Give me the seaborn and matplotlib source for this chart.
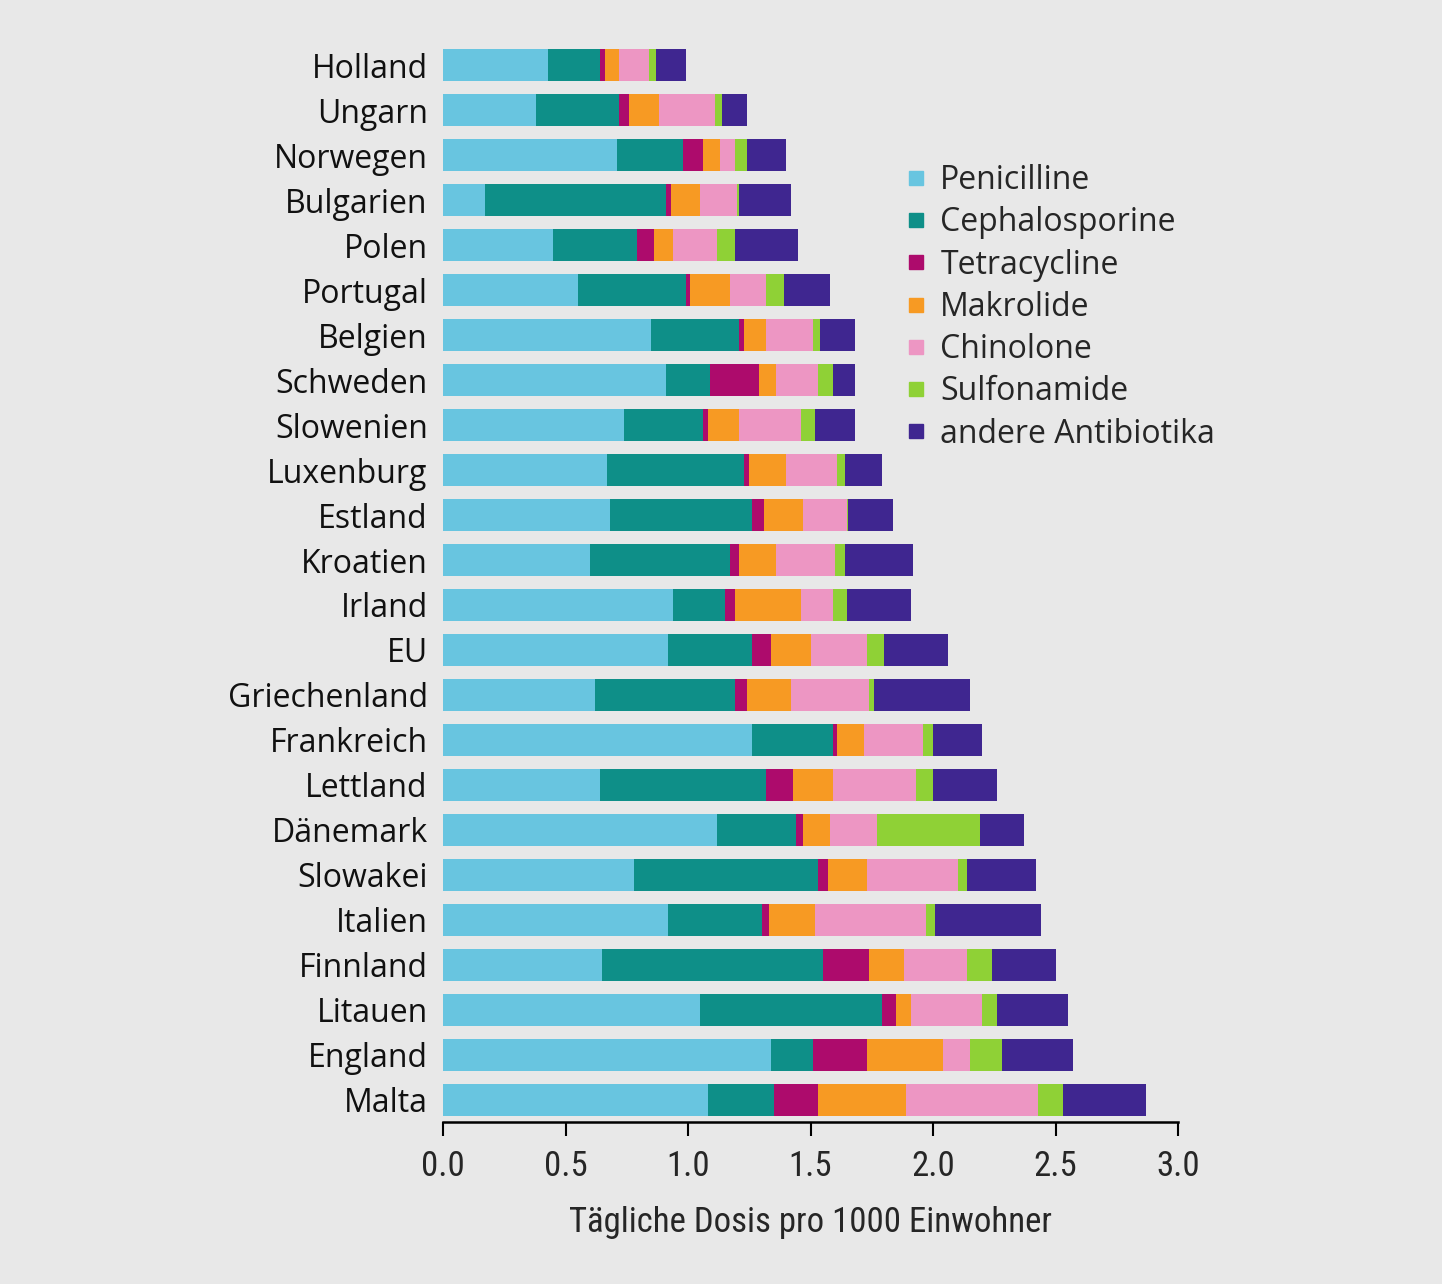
import matplotlib
matplotlib.use("Agg")
import matplotlib.pyplot as plt
import matplotlib.font_manager as fm
from matplotlib.lines import Line2D
import numpy as np
import pandas as pd
import seaborn as sns

# Data (daily dose per 1000 inhabitants)
countries = ["Holland", "Ungarn", "Norwegen", "Bulgarien", "Polen", "Portugal",
             "Belgien", "Schweden", "Slowenien", "Luxenburg", "Estland", "Kroatien",
             "Irland", "EU", "Griechenland", "Frankreich", "Lettland", "Dänemark",
             "Slowakei", "Italien", "Finnland", "Litauen", "England", "Malta"]

penicilline = [0.43, 0.38, 0.71, 0.17, 0.45, 0.55, 0.85, 0.91, 0.74, 0.67, 0.68, 0.60,
               0.94, 0.92, 0.62, 1.26, 0.64, 1.12, 0.78, 0.92, 0.65, 1.05, 1.34, 1.08]
cephalosporine = [0.21, 0.34, 0.27, 0.74, 0.34, 0.44, 0.36, 0.18, 0.32, 0.56, 0.58, 0.57,
                  0.21, 0.34, 0.57, 0.33, 0.68, 0.32, 0.75, 0.38, 0.90, 0.74, 0.17, 0.27]
tetracycline = [0.02, 0.04, 0.08, 0.02, 0.07, 0.02, 0.02, 0.20, 0.02, 0.02, 0.05, 0.04,
                0.04, 0.08, 0.05, 0.02, 0.11, 0.03, 0.04, 0.03, 0.19, 0.06, 0.22, 0.18]
makrolide = [0.06, 0.12, 0.07, 0.12, 0.08, 0.16, 0.09, 0.07, 0.13, 0.15, 0.16, 0.15,
             0.27, 0.16, 0.18, 0.11, 0.16, 0.11, 0.16, 0.19, 0.14, 0.06, 0.31, 0.36]
chinolone = [0.12, 0.23, 0.06, 0.15, 0.18, 0.15, 0.19, 0.17, 0.25, 0.21, 0.18, 0.24,
             0.13, 0.23, 0.32, 0.24, 0.34, 0.19, 0.37, 0.45, 0.26, 0.29, 0.11, 0.54]
sulfonamide = [0.03, 0.03, 0.05, 0.01, 0.07, 0.07, 0.03, 0.06, 0.06, 0.03, 0.005, 0.04,
               0.06, 0.07, 0.02, 0.04, 0.07, 0.42, 0.04, 0.04, 0.10, 0.06, 0.13, 0.10]
andere = [0.12, 0.10, 0.16, 0.21, 0.26, 0.19, 0.14, 0.09, 0.16, 0.15, 0.18, 0.28,
          0.26, 0.26, 0.39, 0.20, 0.26, 0.18, 0.28, 0.43, 0.26, 0.29, 0.29, 0.34]

labels = ["Penicilline", "Cephalosporine", "Tetracycline", "Makrolide",
          "Chinolone", "Sulfonamide", "andere Antibiotika"]
colors = ["#68c5e0", "#0e8f88", "#ad0b6c", "#f79a23", "#ed96c3", "#8fd136", "#3f2690"]
series = [penicilline, cephalosporine, tetracycline, makrolide, chinolone, sulfonamide, andere]


def pick_font(families, default):
    for f in families:
        try:
            fm.findfont(fm.FontProperties(family=f), fallback_to_default=False)
            return f
        except Exception:
            pass
    return default


main_font = pick_font(["Open Sans", "Noto Sans"], "DejaVu Sans")
narrow_font = pick_font(["Liberation Sans Narrow", "Roboto Condensed"], None)

sns.set_style("white")
bg = "#e8e8e8"
plt.rcParams["font.family"] = [main_font, "DejaVu Sans"]

df = pd.DataFrame({"Land": countries})
for name, vals in zip(labels, series):
    df[name] = vals
cum = df[labels].cumsum(axis=1)

fig = plt.figure(figsize=(14.42, 12.84), dpi=100, facecolor=bg)
ax = fig.add_axes([443 / 1442, 1 - 1122 / 1284, (1178 - 443) / 1442, (1122 - 43) / 1284])
ax.set_facecolor(bg)

# stacked bars: draw cumulative totals from the outermost segment inwards
for name, col in reversed(list(zip(labels, colors))):
    sns.barplot(x=cum[name], y=df["Land"], orient="h", color=col, saturation=1,
                width=0.73, linewidth=0, ax=ax)

ax.set_xlim(0, 3.0)
ax.set_ylim(23.49, -0.49)
ax.set_xticks(np.arange(0, 3.01, 0.5))

for s in ["top", "right", "left"]:
    ax.spines[s].set_visible(False)
ax.spines["bottom"].set_linewidth(1.8)
ax.spines["bottom"].set_color("black")

ax.tick_params(axis="y", left=False, length=0, pad=11, labelsize=23, labelcolor="#111111")
ax.tick_params(axis="x", bottom=True, direction="out", length=10, width=1.5, pad=10,
               color="black")

if narrow_font:
    tick_kw = dict(family=[narrow_font, "DejaVu Sans"], size=25)
    lab_kw = dict(family=[narrow_font, "DejaVu Sans"], size=25)
else:
    tick_kw = dict(size=21)
    lab_kw = dict(size=21)

ax.set_xticklabels([f"{t:.1f}" for t in ax.get_xticks()], **tick_kw)
ax.set_xlabel("Tägliche Dosis pro 1000 Einwohner", labelpad=17, **lab_kw)
ax.set_ylabel("")

handles = [Line2D([0], [0], marker="s", linestyle="none", markersize=10,
                  markerfacecolor=c, markeredgecolor=c) for c in colors]
fig.legend(handles, labels, loc="upper left", bbox_to_anchor=(902 / 1442, 1 - 164 / 1284),
           frameon=False, fontsize=23, handlelength=0.9, handletextpad=0.3,
           labelspacing=0.29, borderpad=0, borderaxespad=0)

fig.savefig("out.png", dpi=100, facecolor=bg)
